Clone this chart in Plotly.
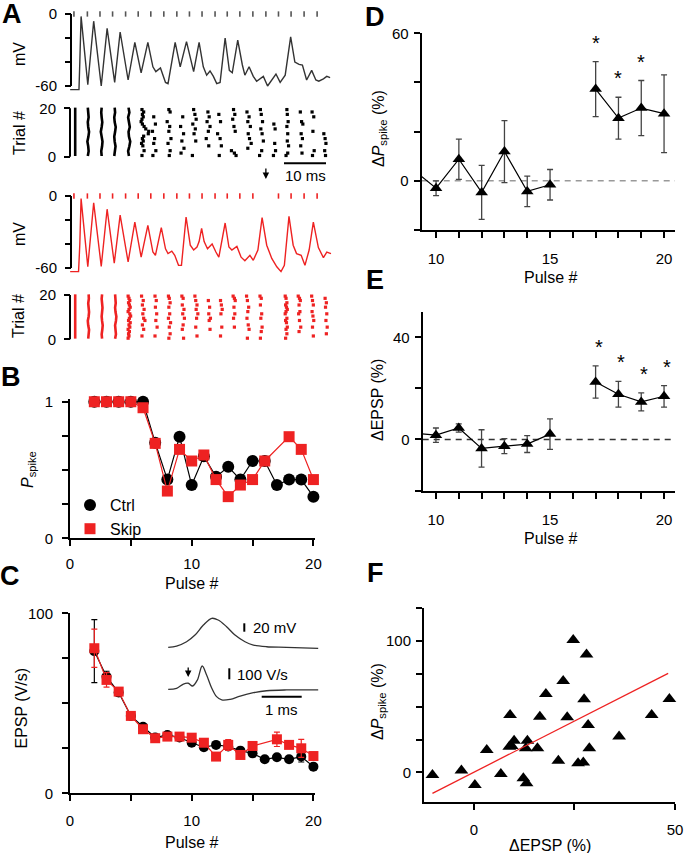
import plotly.graph_objects as go

W, H = 686, 853
def X(p): return p / W
def Y(p): return 1 - p / H

FONT = "Liberation Sans, Arial, Helvetica, sans-serif"
RED = "#ee2222"
DARK = "#333333"

# ---------------- Panel A data ----------------
PULSE_TIMES = [0.7, 3.9, 6.9, 9.9, 13.0, 16.0, 19.0, 22.1, 25.2, 28.2, 31.2, 34.3, 37.2, 40.2, 43.3, 46.4, 49.4, 52.4, 55.5, 58.6]
SKIPPED_PULSE = 16  # 1-based pulse index omitted in the "skip" protocol

CTRL_T = [-0.2, 1.9, 2.1, 2.4, 4.0, 5.4, 7.2, 8.6, 10.4, 11.7, 13.6, 15.2, 16.7, 18.3, 19.5, 20.2, 21.3, 22.5, 23.1, 23.8,
          24.8, 26.0, 27.5, 29.2, 30.5, 31.5, 32.3, 33.1, 33.9, 34.7, 35.5, 36.7, 37.7, 38.4, 39.7, 40.8, 41.4, 42.4, 43.4,
          44.2, 45.8, 46.8, 47.8, 48.8, 49.8, 51.0, 52.3, 53.3, 54.3, 55.1, 56.1, 57.3, 58.3, 59.0, 60.1, 60.9, 61.7]
CTRL_V = [-63, -63, -40, -2, -59, -6, -60, -12, -57, -15, -55, -23.6, -49, -23.6, -44, -48, -45, -57, -58, -45,
          -23.6, -44, -23, -48, -23.6, -44, -51, -47.5, -52, -58, -57, -20, -47, -49, -21.7, -42.5, -51, -44, -52,
          -56, -52, -60, -55, -50, -57, -51, -19, -40, -42, -42.5, -55, -47, -55, -56, -54, -52, -53]

SKIP_T = [-0.2, 1.8, 2.1, 2.4, 4.0, 5.4, 7.2, 8.6, 10.3, 11.7, 13.6, 15.2, 16.7, 18.3, 19.5, 20.1, 21.5, 22.5, 23.1, 24.0,
          24.7, 25.6, 26.3, 27.4, 28.4, 29.2, 30.0, 30.5, 31.1, 31.7, 32.5, 33.6, 34.5, 35.2, 36.7, 37.6, 38.3, 39.5, 40.5,
          41.4, 42.6, 43.4, 44.5, 45.5, 46.6, 47.8, 49.0, 50.0, 50.8, 51.9, 52.9, 53.7, 54.8, 55.7, 56.7, 57.7, 58.9, 60.1,
          60.9, 61.9]
SKIP_V = [-63, -63, -40, -2.2, -59, -5.6, -58.6, -11, -56, -16, -55, -21.7, -51, -24.4, -46.7, -49.4, -26.4, -44, -48, -46,
          -49.4, -57.8, -57.8, -17.5, -41, -45, -42.5, -38, -27, -38, -44, -40, -46.7, -51, -22.5, -42.5, -45, -42, -51,
          -54, -49.4, -53.6, -45, -18, -41, -52, -59, -63, -57.8, -17, -41, -48, -49.4, -57.8, -45, -21.7, -43, -51.4,
          -46.7, -48]

# Raster: solid/wavy columns (all trials fire): time (ms) and x-jitter at trials 0,2,...,20
RASTER_ROWS = [0, 2, 4, 6, 8, 10, 12, 14, 16, 18, 20]
CTRL_FULL_COLS = [
    (1.0, [0, 0, 0, 0, 0, 0, 0, 0, 0, 0, 0]),
    (4.0, [0, .2, .1, -.1, .15, .3, .1, 0, .2, .1, 0]),
    (7.2, [.1, 0, .2, .3, .1, -.1, .1, .25, .1, 0, .1]),
    (10.3, [0, .15, .3, .1, 0, .2, .35, .1, 0, .2, .1]),
    (13.6, [.2, 0, .3, .5, .2, .1, .4, .2, 0, .3, .1]),
]
SKIP_FULL_COLS = [
    (1.0, [0, 0, 0, 0, 0, 0, 0, 0, 0, 0, 0]),
    (4.1, [0, .1, .2, 0, -.1, .1, .2, .1, 0, .15, .1]),
    (7.3, [.1, 0, .15, .25, .1, 0, .1, .2, .1, 0, .1]),
    (10.5, [0, .2, .1, 0, .2, .3, .1, 0, .15, .1, 0]),
]
# Raster: sparse columns -> (column time ms, trials that fired, per-spike time offset ms)
CTRL_DOT_COLS = [
    (16.9, [20, 19, 18, 17, 16, 15, 14, 13, 12, 11, 10, 9, 8, 7, 6, 5, 3, 1],
     [0.0, 0.4, 0.1, 0.3, 0.0, -0.2, 0.1, 0.5, 0.9, 1.6, 1.5, 0.4, 0.1, 0.3, -0.1, 0.2, 0.5, 0.0]),
    (19.7, [17, 14, 11, 8, 6, 3, 1], [0.0, 0.4, -0.3, 0.2, 0.0, 0.5, -0.2]),
    (23.3, [20, 19, 15, 13, 11, 8, 6, 3, 1], [0.0, 0.3, -0.4, 0.2, 0.0, 0.5, -0.2, 0.3, 0.1]),
    (26.4, [17, 13, 10, 7, 4, 2], [0.2, -0.3, 0.4, 0.0, 0.5, -0.2]),
    (29.2, [20, 18, 16, 14, 12, 10, 7, 1], [0.0, 0.3, 0.6, -0.2, 0.4, 0.1, 0.5, -0.3]),
    (32.4, [19, 17, 15, 13, 11, 8, 5], [0.2, 0.5, 0.0, 0.7, 0.3, -0.2, 0.4]),
    (35.2, [18, 15, 10, 8, 5, 1], [0.0, 0.4, -0.3, 0.3, 0.6, 0.1]),
    (38.7, [20, 18, 16, 13, 11, 3, 2, 1], [0.0, 0.3, -0.2, 0.1, 0.4, -0.5, 0.2, 0.6]),
    (41.9, [19, 17, 15, 13, 10, 8, 6, 4], [0.0, 0.5, 0.2, 0.8, 0.3, 0.6, 1.0, 0.2]),
    (45.1, [20, 18, 15, 12, 10, 7, 3, 1], [0.0, 0.2, 0.5, 0.1, 0.4, 0.7, 0.3, -0.2]),
    (48.3, [14, 12, 6, 3, 1], [0.0, 0.3, 0.2, 0.4, -0.1]),
    (51.4, [20, 18, 15, 13, 10, 7, 5, 2, 1], [0.0, 0.1, 0.3, 0.0, 0.2, 0.1, 0.4, 0.2, -0.2]),
    (54.6, [19, 15, 14, 10, 8, 5, 2], [0.0, 0.3, 0.6, 0.2, 0.5, 0.1, 0.4]),
    (57.4, [19, 17, 11, 3, 1], [0.0, 0.4, 0.2, 0.5, 0.1]),
    (60.2, [10, 8, 6, 3, 1], [0.0, 0.3, 0.5, 0.2, 0.4]),
]
SKIP_DOT_COLS = [
    (13.6, [20, 19, 18, 17, 16, 15, 14, 13, 12, 11, 10, 9, 8, 7, 6, 5, 4, 3, 2, 1],
     [0.0, 0.2, 0.4, 0.1, 0.3, 0.5, 0.2, 0.0, 0.4, 0.6, 0.3, 0.1, 0.5, 0.2, 0.4, 0.0, 0.3, 0.1, 0.2, 0.0]),
    (16.8, [20, 18, 16, 14, 12, 10, 9, 7, 5, 2], [0.0, 0.4, 0.2, 0.6, 0.3, 0.5, 0.8, 0.2, 0.5, 0.1]),
    (20.0, [20, 18, 15, 12, 9, 6, 2], [0.0, 0.3, 0.1, 0.4, 0.2, 0.5, 0.0]),
    (23.2, [20, 19, 17, 15, 12, 10, 8, 6, 3, 1], [0.0, 0.2, 0.4, 0.1, 0.3, 0.0, 0.5, 0.2, 0.4, 0.1]),
    (26.4, [20, 19, 16, 14, 12, 10, 7, 5, 1], [0.0, 0.3, 0.1, 0.5, 0.2, 0.6, 0.3, 0.1, 0.4]),
    (29.5, [20, 18, 16, 14, 12, 10, 6, 2], [0.0, 0.2, 0.5, 0.3, 0.7, 0.4, 0.2, 0.5]),
    (32.7, [18, 15, 12, 10, 9, 5], [0.0, 0.3, 0.1, 0.5, 0.2, 0.4]),
    (35.6, [18, 16, 14, 12, 6, 2], [0.0, 0.2, 0.4, 0.1, 0.3, 0.0]),
    (38.6, [20, 19, 18, 15, 12, 10, 6], [0.0, 0.3, 0.5, 0.2, 0.4, 0.1, 0.3]),
    (41.8, [20, 18, 15, 13, 10, 7, 5, 1], [0.0, 0.2, 0.5, 0.3, 0.1, 0.4, 0.6, 0.2]),
    (45.0, [20, 19, 16, 12, 10, 6, 4, 1], [0.0, 0.3, 0.1, 0.4, 0.2, 0.5, 0.3, 0.1]),
    (51.0, [20, 19, 17, 16, 15, 14, 13, 12, 10, 9, 8, 6, 5, 3, 1],
     [0.0, 0.2, 0.4, 0.1, 0.3, 0.5, 0.2, 0.0, 0.4, 0.1, 0.3, 0.5, 0.2, 0.4, 0.1]),
    (54.1, [20, 19, 18, 16, 13, 12, 9, 6, 4], [0.0, 0.3, 0.5, 0.2, 0.4, 0.1, 0.3, 0.6, 0.2]),
    (57.3, [20, 18, 16, 13, 11, 9, 6, 2], [0.0, 0.2, 0.4, 0.1, 0.3, 0.5, 0.2, 0.4]),
    (60.5, [19, 17, 15, 12, 9, 6, 3], [0.0, 0.3, 0.1, 0.4, 0.2, 0.5, 0.3]),
]

# ---------------- Panel B data ----------------
B_CTRL_PULSE = [2, 3, 4, 5, 6, 7, 8, 9, 10, 11, 12, 13, 14, 15, 16, 17, 18, 19, 20]
B_CTRL_P = [1, 1, 1, 1, 1.0, 0.70, 0.43, 0.744, 0.39, 0.60, 0.45, 0.524, 0.43, 0.566, 0.566, 0.39, 0.43, 0.43, 0.305]
B_SKIP_PULSE = [2, 3, 4, 5, 6, 7, 8, 9, 10, 11, 12, 13, 14, 15, 16, 18, 19, 20]
B_SKIP_P = [1, 1, 1, 1, 0.956, 0.695, 0.346, 0.651, 0.566, 0.61, 0.43, 0.305, 0.39, 0.43, 0.566, 0.744, 0.651, 0.43]

# ---------------- Panel C data ----------------
C_CTRL_PULSE = [2, 3, 4, 5, 6, 7, 8, 9, 10, 11, 12, 13, 14, 15, 16, 17, 18, 19, 20]
C_CTRL_EPSP = [79, 64.8, 56, 43, 37, 31, 32.4, 31, 28.1, 25.6, 26.9, 26, 23.7, 22.2, 18.9, 20, 18.9, 20.4, 14.8]
C_CTRL_ERR = [17.5, 3, 2, 1.5, 1.5, 1.2, 1.2, 1.2, 1.5, 1.5, 1.5, 1.5, 1.5, 1.5, 1.5, 1.5, 1.5, 3, 1.5]
C_SKIP_PULSE = [2, 3, 4, 5, 6, 7, 8, 9, 10, 11, 12, 13, 14, 15, 17, 18, 19, 20]
C_SKIP_EPSP = [80.6, 63, 56.5, 43, 35.6, 30.6, 31.5, 31.5, 30.9, 28.1, 20.4, 26.9, 21.3, 26.3, 30, 26.9, 25, 20.7]
C_SKIP_ERR = [10.6, 4, 2, 2, 2, 1.5, 1.5, 1.5, 2, 2, 2, 3, 2, 2, 4, 2, 5, 2]
# inset: EPSP waveform (mV, relative) and its derivative (V/s)
INSET_T = [0.08, 0.29, 0.54, 0.75, 0.96, 1.17, 1.33, 1.54, 1.75, 2.0, 2.21, 2.54, 3.04, 3.83]
INSET_MV = [0, 3.1, 13.5, 29.6, 53.7, 69.9, 65.8, 49.6, 29.6, 13.5, 5.5, 1.4, 0, -2.4]
INSET_DT = [0.08, 0.29, 0.46, 0.58, 0.69, 0.81, 0.93, 1.04, 1.17, 1.29, 1.42, 1.63, 1.88, 2.21, 2.54, 3.04, 3.83]
INSET_DVDT = [0, 9, 48, 55, 30, 85, 212, 130, 9, -67, -97, -91, -61, -31, -13, -6, -6]
INSET_ARROW_T = 0.58

# ---------------- Panel D / E data ----------------
D_PULSE = [9, 10, 11, 12, 13, 14, 15, 16, 17, 18, 19, 20]
D_MEAN = [4.5, -3.0, 8.8, -4.7, 11.9, -4.3, -1.6, None, 37.3, 25.5, 29.6, 27.3]
D_ERR = [5.0, 3.0, 8.2, 11.0, 12.6, 6.2, 6.2, None, 11.2, 8.5, 11.2, 15.8]
D_SIG = [17, 18, 19]

E_PULSE = [9, 10, 11, 12, 13, 14, 15, 16, 17, 18, 19, 20]
E_MEAN = [2.5, 1.7, 4.5, -3.5, -2.6, -1.8, 2.1, None, 22.5, 17.7, 14.7, 16.9]
E_ERR = [2.0, 2.8, 1.6, 7.3, 2.9, 3.3, 6.0, None, 6.3, 5.0, 3.5, 4.2]
E_SIG = [17, 18, 19, 20]

# ---------------- Panel F data ----------------
F_DEPSP = [-10.3, -3.1, 0.25, 3.2, 6.7, 9.0, 8.8, 10.0, 9.4, 12.3, 13.1, 13.3, 12.9, 15.8, 16.4, 17.9, 21.0, 22.2,
           23.2, 24.7, 25.9, 27.2, 27.4, 28.0, 28.4, 28.7, 36.1, 37.1, 44.2, 48.6]
F_DPSPIKE = [-2, 1.3, -9.6, 17, -1.3, 43.7, 19.5, 24.1, 20, -4.6, -8.4, 24.1, 18.3, 18.3, 42.4, 59.6, 8.9, 69.5,
             41.9, 100.8, 6.9, 7.4, 55.6, 89.8, 36, 18.3, 27.2, 126.6, 43.7, 55.8]
F_FIT_X = [-10.3, 48.3]
F_FIT_Y = [-16, 75.4]

# =====================================================================
fig = go.Figure()
layout = {}
shapes = []
annotations = []


def axis_common(**kw):
    d = dict(showgrid=False, zeroline=False, showline=True, linecolor='black', linewidth=2,
             ticks='outside', ticklen=6, tickwidth=1.5, tickcolor='black', automargin=False,
             tickfont=dict(family=FONT, size=15, color='black'), fixedrange=True)
    d.update(kw)
    return d


def add_axes(i, xdom, xrange, ydom, yrange, xkw=None, ykw=None):
    xn = 'xaxis' if i == 1 else f'xaxis{i}'
    yn = 'yaxis' if i == 1 else f'yaxis{i}'
    xa = 'x' if i == 1 else f'x{i}'
    ya = 'y' if i == 1 else f'y{i}'
    xd = dict(domain=[X(xdom[0]), X(xdom[1])], range=xrange, anchor=ya)
    xd.update(xkw or {})
    yd = dict(domain=[Y(ydom[1]), Y(ydom[0])], range=yrange, anchor=xa)
    yd.update(ykw or {})
    layout[xn] = axis_common(**xd)
    layout[yn] = axis_common(**yd)
    return xa, ya


HID = dict(visible=False)
A_XDOM = [62, 335]
A_XR = [-2.143, 62.857]

def a_y(pos, vals, texts):
    return dict(anchor='free', position=X(pos), showline=False, tickvals=vals, ticktext=texts,
                ticklabelstandoff=5)

xa1, ya1 = add_axes(1, A_XDOM, A_XR, [5, 95], [-67.5, 7.5], HID, a_y(71, [0, -20, -40, -60], ['0', '', '', '-60']))
xa2, ya2 = add_axes(2, A_XDOM, A_XR, [104, 160], [-1.36, 21.8], HID, a_y(70, [0, 20], ['0', '20']))
xa3, ya3 = add_axes(3, A_XDOM, A_XR, [187, 277], [-67.5, 7.5], HID, a_y(71, [0, -20, -40, -60], ['0', '', '', '-60']))
xa4, ya4 = add_axes(4, A_XDOM, A_XR, [290, 344], [-2.12, 22.26], HID, a_y(70, [0, 20], ['0', '20']))

for ya in ['y', 'y3']:
    shapes.append(dict(type='line', xref='paper', yref=ya, x0=X(71), x1=X(71), y0=0, y1=-60,
                       line=dict(color='black', width=2)))
for ya in ['y2', 'y4']:
    shapes.append(dict(type='line', xref='paper', yref=ya, x0=X(70), x1=X(70), y0=0, y1=20,
                       line=dict(color='black', width=2)))


def stim_ticks(times, xa, ya, color):
    xs, ys = [], []
    for t in times:
        xs += [t, t, None]
        ys += [-2.2, 2.2, None]
    fig.add_trace(go.Scatter(x=xs, y=ys, mode='lines', line=dict(color=color, width=1.6),
                             xaxis=xa, yaxis=ya, showlegend=False, hoverinfo='skip'))


stim_ticks(PULSE_TIMES, xa1, ya1, '#555555')
stim_ticks([t for i, t in enumerate(PULSE_TIMES) if i + 1 != SKIPPED_PULSE], xa3, ya3, RED)

fig.add_trace(go.Scatter(x=CTRL_T, y=CTRL_V, mode='lines', line=dict(color=DARK, width=1.4),
                         xaxis=xa1, yaxis=ya1, showlegend=False))
fig.add_trace(go.Scatter(x=SKIP_T, y=SKIP_V, mode='lines', line=dict(color=RED, width=1.4),
                         xaxis=xa3, yaxis=ya3, showlegend=False))


def raster(full_cols, dot_cols, xa, ya, color):
    for t0, jit in full_cols:
        fig.add_trace(go.Scatter(x=[t0 + j for j in jit], y=[r + 0.3 for r in RASTER_ROWS], mode='lines',
                                 line=dict(color=color, width=2.6), xaxis=xa, yaxis=ya,
                                 showlegend=False, hoverinfo='skip'))
    xs, ys = [], []
    for t0, trials, offs in dot_cols:
        for tr, o in zip(trials, offs):
            xs.append(t0 + o)
            ys.append(tr - 0.5)
    fig.add_trace(go.Scatter(x=xs, y=ys, mode='markers', marker=dict(color=color, size=3.2, symbol='square'),
                             xaxis=xa, yaxis=ya, showlegend=False, hoverinfo='skip', cliponaxis=False))


raster(CTRL_FULL_COLS, CTRL_DOT_COLS, xa2, ya2, 'black')
raster(SKIP_FULL_COLS, SKIP_DOT_COLS, xa4, ya4, RED)

# scale bar & arrow in A
shapes.append(dict(type='line', xref='paper', yref='paper', x0=X(284), x1=X(326), y0=Y(163.3), y1=Y(163.3),
                   line=dict(color='black', width=2)))
annotations.append(dict(text='10 ms', x=X(305), y=Y(176), xref='paper', yref='paper', showarrow=False,
                        font=dict(family=FONT, size=15, color='black'), xanchor='center', yanchor='middle'))
annotations.append(dict(text='', x=PULSE_TIMES[SKIPPED_PULSE - 1], y=Y(179), xref=xa1, yref='paper',
                        showarrow=True, ax=0, ay=-12, arrowhead=2, arrowsize=1, arrowwidth=1.3, arrowcolor='black'))

# ---------------- Panel B ----------------
xa5, ya5 = add_axes(5, [70, 315], [0, 20.13], [399, 538.3], [0, 1.02],
                    dict(tickvals=[0, 5, 10, 15, 20], ticktext=['0', '', '10', '', '20'], ticklabelstandoff=5),
                    dict(tickvals=[0, 0.25, 0.5, 0.75, 1], ticktext=['0', '', '', '', '1'], ticklabelstandoff=6))
fig.add_trace(go.Scatter(x=B_CTRL_PULSE, y=B_CTRL_P, mode='lines', line=dict(color='black', width=1.2),
                         xaxis=xa5, yaxis=ya5, showlegend=False))
fig.add_trace(go.Scatter(x=B_CTRL_PULSE, y=B_CTRL_P, mode='markers', name='Ctrl',
                         marker=dict(color='black', size=12, symbol='circle'),
                         xaxis=xa5, yaxis=ya5, cliponaxis=False))
fig.add_trace(go.Scatter(x=B_SKIP_PULSE, y=B_SKIP_P, mode='lines', line=dict(color=RED, width=1.2),
                         xaxis=xa5, yaxis=ya5, showlegend=False))
fig.add_trace(go.Scatter(x=B_SKIP_PULSE, y=B_SKIP_P, mode='markers', name='Skip',
                         marker=dict(color=RED, size=11, symbol='square'),
                         xaxis=xa5, yaxis=ya5, cliponaxis=False))

# ---------------- Panel C ----------------
xa6, ya6 = add_axes(6, [70, 315], [0, 20.13], [613.3, 793.3], [0, 100],
                    dict(tickvals=[0, 5, 10, 15, 20], ticktext=['0', '', '10', '', '20'], ticklabelstandoff=7),
                    dict(tickvals=[0, 25, 50, 75, 100], ticktext=['0', '', '', '', '100'], ticklabelstandoff=6))
fig.add_trace(go.Scatter(x=C_CTRL_PULSE, y=C_CTRL_EPSP, mode='lines+markers', line=dict(color='black', width=1.2),
                         marker=dict(color='black', size=10, symbol='circle'),
                         error_y=dict(type='data', array=C_CTRL_ERR, color='black', thickness=1.2, width=3),
                         xaxis=xa6, yaxis=ya6, showlegend=False, cliponaxis=False))
fig.add_trace(go.Scatter(x=C_SKIP_PULSE, y=C_SKIP_EPSP, mode='lines+markers', line=dict(color=RED, width=1.2),
                         marker=dict(color=RED, size=10, symbol='square'),
                         error_y=dict(type='data', array=C_SKIP_ERR, color=RED, thickness=1.2, width=3),
                         xaxis=xa6, yaxis=ya6, showlegend=False, cliponaxis=False))

xa7, ya7 = add_axes(7, [165, 320], [0, 3.875], [612, 652], [-11.3, 85.1], HID, HID)
xa8, ya8 = add_axes(8, [165, 320], [0, 3.875], [660, 705], [-142.7, 266.4], HID, HID)
fig.add_trace(go.Scatter(x=INSET_T, y=INSET_MV, mode='lines', line=dict(color=DARK, width=1.3, shape='spline'),
                         xaxis=xa7, yaxis=ya7, showlegend=False))
fig.add_trace(go.Scatter(x=INSET_DT, y=INSET_DVDT, mode='lines', line=dict(color=DARK, width=1.3, shape='spline'),
                         xaxis=xa8, yaxis=ya8, showlegend=False))
annotations.append(dict(text='', x=INSET_ARROW_T, y=Y(677), xref=xa8, yref='paper', showarrow=True,
                        ax=0, ay=-11, arrowhead=2, arrowsize=1, arrowwidth=1.3, arrowcolor='black'))
for (x0, y0, x1, y1) in [(244.3, 623.3, 244.3, 631.7), (229.3, 668.3, 229.3, 679.3), (261.7, 696.7, 301.7, 696.7)]:
    shapes.append(dict(type='line', xref='paper', yref='paper', x0=X(x0), x1=X(x1), y0=Y(y0), y1=Y(y1),
                       line=dict(color='black', width=2)))
for txt_, x, y, anc in [('20 mV', 251, 627.5, 'left'), ('100 V/s', 235, 674, 'left'), ('1 ms', 281.7, 709, 'center')]:
    annotations.append(dict(text=txt_, x=X(x), y=Y(y), xref='paper', yref='paper', showarrow=False,
                            font=dict(family=FONT, size=15, color='black'), xanchor=anc, yanchor='middle'))

# ---------------- Panel D ----------------
DE_XT = dict(tickvals=list(range(10, 21)),
             ticktext=['10', '', '', '', '', '15', '', '', '', '', '20'], ticklabelstandoff=8)
xa9, ya9 = add_axes(9, [421.7, 675], [9.37, 20.48], [33.3, 230], [-20, 60], DE_XT,
                    dict(tickvals=[-20, 0, 20, 40, 60], ticktext=['', '0', '', '', '60'], ticklabelstandoff=2))
shapes.append(dict(type='line', xref='x9 domain', yref='y9', x0=0, x1=1, y0=0, y1=0,
                   line=dict(color='#999999', width=1.5, dash='6px,5px'), layer='below'))
fig.add_trace(go.Scatter(x=D_PULSE, y=D_MEAN, mode='lines+markers', line=dict(color='black', width=1.2),
                         marker=dict(color='black', size=11, symbol='triangle-up'),
                         error_y=dict(type='data', array=D_ERR, color='#444444', thickness=1.3, width=3),
                         connectgaps=False, xaxis=xa9, yaxis=ya9, showlegend=False))
for p in D_SIG:
    i = D_PULSE.index(p)
    annotations.append(dict(text='*', x=p, y=D_MEAN[i] + D_ERR[i], xref=xa9, yref=ya9, showarrow=False,
                            yshift=19, font=dict(family=FONT, size=20, color='black'),
                            xanchor='center', yanchor='middle'))

# ---------------- Panel E ----------------
xa10, ya10 = add_axes(10, [422.7, 675], [9.42, 20.48], [311.7, 490.6], [-20, 50], DE_XT,
                      dict(tickvals=[-20, 0, 20, 40], ticktext=['', '0', '', '40'], ticklabelstandoff=2))
shapes.append(dict(type='line', xref='x10 domain', yref='y10', x0=0, x1=1, y0=0, y1=0,
                   line=dict(color='#333333', width=1.5, dash='6px,5px'), layer='below'))
fig.add_trace(go.Scatter(x=E_PULSE, y=E_MEAN, mode='lines+markers', line=dict(color='black', width=1.2),
                         marker=dict(color='black', size=11, symbol='triangle-up'),
                         error_y=dict(type='data', array=E_ERR, color='#444444', thickness=1.3, width=3),
                         connectgaps=False, xaxis=xa10, yaxis=ya10, showlegend=False))
for p in E_SIG:
    i = E_PULSE.index(p)
    annotations.append(dict(text='*', x=p, y=E_MEAN[i] + E_ERR[i], xref=xa10, yref=ya10, showarrow=False,
                            yshift=19, xshift=3, font=dict(family=FONT, size=20, color='black'),
                            xanchor='center', yanchor='middle'))

# ---------------- Panel F ----------------
xa11, ya11 = add_axes(11, [424, 675], [-12.4, 50], [608.3, 801.7], [-22.4, 125],
                      dict(tickvals=[0, 25, 50], ticktext=['0', '', '50'], ticklabelstandoff=7),
                      dict(tickvals=[0, 25, 50, 75, 100, 125], ticktext=['0', '', '', '', '100', ''],
                           ticklabelstandoff=2))
fig.add_trace(go.Scatter(x=F_DEPSP, y=F_DPSPIKE, mode='markers',
                         marker=dict(color='black', size=12, symbol='triangle-up'),
                         xaxis=xa11, yaxis=ya11, showlegend=False, cliponaxis=False))
fig.add_trace(go.Scatter(x=F_FIT_X, y=F_FIT_Y, mode='lines', line=dict(color=RED, width=1.3),
                         xaxis=xa11, yaxis=ya11, showlegend=False))

# ---------------- Titles / labels ----------------
def txt(t, x, y, size=16, angle=0, bold=False, anchor='center'):
    annotations.append(dict(text=f'<b>{t}</b>' if bold else t, x=X(x), y=Y(y), xref='paper', yref='paper',
                            showarrow=False, textangle=angle, xanchor=anchor, yanchor='middle',
                            font=dict(family=FONT, size=size, color='black')))

for lab, x, y in [('A', 12, 14), ('B', 11, 377), ('C', 10, 576), ('D', 375, 17), ('E', 375, 280), ('F', 375, 573)]:
    txt(lab, x, y, size=27, bold=True)

txt('mV', 19, 54, angle=-90)
txt('Trial #', 19, 133, angle=-90)
txt('mV', 19, 234, angle=-90)
txt('Trial #', 19, 316, angle=-90)
txt('<i>P</i><sub>spike</sub>', 28, 469, angle=-90)
txt('Pulse #', 191.7, 583)
txt('EPSP (V/s)', 20.5, 708, angle=-90)
txt('Pulse #', 191.7, 842)
txt('Δ<i>P</i><sub>spike</sub> (%)', 379, 129, angle=-90)
txt('Pulse #', 550, 278)
txt('ΔEPSP (%)', 377, 400, angle=-90)
txt('Pulse #', 550, 538)
txt('Δ<i>P</i><sub>spike</sub> (%)', 378, 701, angle=-90)
txt('ΔEPSP (%)', 550, 845)

fig.update_layout(
    width=W, height=H, margin=dict(l=0, r=0, t=0, b=0, pad=0, autoexpand=False),
    paper_bgcolor='white', plot_bgcolor='rgba(0,0,0,0)',
    font=dict(family=FONT, size=15, color='black'),
    shapes=shapes, annotations=annotations,
    showlegend=True,
    legend=dict(x=X(70), y=Y(488), xanchor='left', yanchor='top', bgcolor='rgba(0,0,0,0)',
                font=dict(family=FONT, size=16, color='black'), itemwidth=30, tracegroupgap=0,
                itemclick=False, itemdoubleclick=False),
    **layout,
)

fig.write_html("out.html", config={'displayModeBar': False},
               post_script="document.body.style.margin='0';")
